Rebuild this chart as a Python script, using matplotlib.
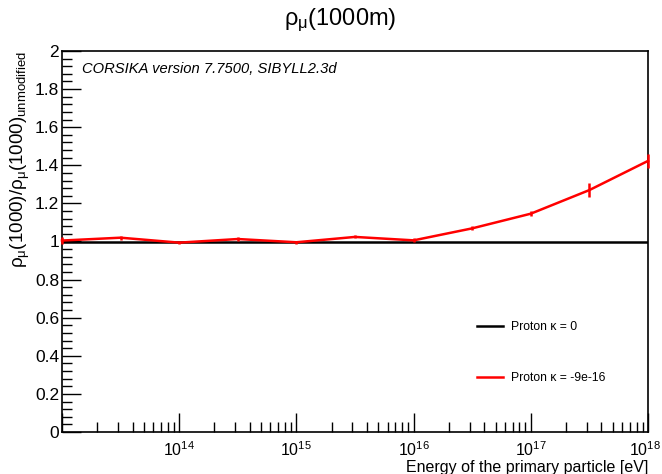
import numpy as np
import matplotlib
matplotlib.use("Agg")
import matplotlib.pyplot as plt
import matplotlib.transforms as mtransforms
from matplotlib.ticker import LogLocator, MultipleLocator, FuncFormatter
from matplotlib.lines import Line2D

plt.rcParams['font.family'] = ['Liberation Sans', 'DejaVu Sans']
plt.rcParams['mathtext.fontset'] = 'custom'
plt.rcParams['mathtext.rm'] = 'Liberation Sans'
plt.rcParams['mathtext.it'] = 'Liberation Sans:italic'
plt.rcParams['mathtext.bf'] = 'Liberation Sans:bold'

# Data
log_energy = [13.0, 13.5, 14.0, 14.5, 15.0, 15.5, 16.0, 16.5, 17.0, 17.5, 18.0]
ratio_ref = [1.0] * 11
ratio_mod = [1.005, 1.020, 0.994, 1.013, 0.996, 1.024, 1.006, 1.069, 1.146, 1.270, 1.423]
ratio_mod_err = [0.020, 0.010, 0.008, 0.008, 0.008, 0.008, 0.010, 0.010, 0.012, 0.035, 0.038]
label_ref = "Proton κ = 0"
label_mod = "Proton κ = -9e-16"

energy = [10 ** e for e in log_energy]

fig = plt.figure(figsize=(6.62, 4.74), dpi=100)
ax = fig.add_axes([62 / 662, 1 - 432 / 474, 586 / 662, 381 / 474])

ax.plot(energy, ratio_ref, color='black', lw=1.8, zorder=3)
ax.errorbar(energy, ratio_mod, yerr=ratio_mod_err, color='#ff0000', lw=1.8,
            elinewidth=1.8, capsize=0, zorder=4, clip_on=False)

ax.set_xscale('log')
ax.set_xlim(1e13, 1e18)
ax.set_ylim(0, 2)

ax.yaxis.set_major_locator(MultipleLocator(0.2))
ax.yaxis.set_minor_locator(MultipleLocator(0.04))
ax.xaxis.set_major_locator(LogLocator(base=10, numticks=20))
ax.xaxis.set_minor_locator(LogLocator(base=10, subs=np.arange(2, 10), numticks=50))

ax.tick_params(axis='both', which='major', direction='in', length=14, width=1,
               labelsize=12.5, top=False, right=False)
ax.tick_params(axis='both', which='minor', direction='in', length=7, width=1,
               top=False, right=False)
ax.tick_params(axis='x', which='major', pad=6, labelsize=11.5)
ax.tick_params(axis='y', which='major', pad=2)

def yfmt(v, pos):
    s = ('%.1f' % v)
    if s.endswith('.0'):
        s = s[:-2]
    return s
ax.yaxis.set_major_formatter(FuncFormatter(yfmt))

def xfmt(v, pos):
    e = int(round(np.log10(v)))
    if e <= 13:
        return ''
    return r'$\mathregular{10^{%d}}$' % e
ax.xaxis.set_major_formatter(FuncFormatter(xfmt))

# shift the last x tick label slightly left so it fits in the figure
fig.canvas.draw()
for lab in ax.get_xticklabels():
    if lab.get_text().find('18') >= 0:
        lab.set_transform(lab.get_transform() +
                          mtransforms.ScaledTranslation(-3 / 100, 0, fig.dpi_scale_trans))

for sp in ax.spines.values():
    sp.set_linewidth(1.2)

ax.set_xlabel('Energy of the primary particle [eV]', loc='right', fontsize=11.5, labelpad=1)
ax.set_ylabel(r'ρ$_{\mathregular{μ}}$(1000)/ρ$_{\mathregular{μ}}$(1000)$_{\mathregular{unmodified}}$',
              loc='top', fontsize=13.5, labelpad=2)

fig.text(340 / 662, 1 - 20 / 474, r'ρ$_{\mathregular{μ}}$(1000m)', ha='center', va='center', fontsize=17)

ax.text((82 - 62) / 586, (432 - 69) / 381, 'CORSIKA version 7.7500, SIBYLL2.3d', transform=ax.transAxes,
        ha='left', va='center', fontsize=10.6, style='italic')

handles = [Line2D([], [], color='black', lw=1.8), Line2D([], [], color='#ff0000', lw=1.8)]
leg = ax.legend(handles, [label_ref, label_mod], loc='upper left',
                bbox_to_anchor=((472 - 62) / 586, (432 - 316) / 381),
                frameon=False, fontsize=8.7, handlelength=2.2, labelspacing=3.25,
                handletextpad=0.6, borderaxespad=0)

fig.savefig('out.png', dpi=100)
